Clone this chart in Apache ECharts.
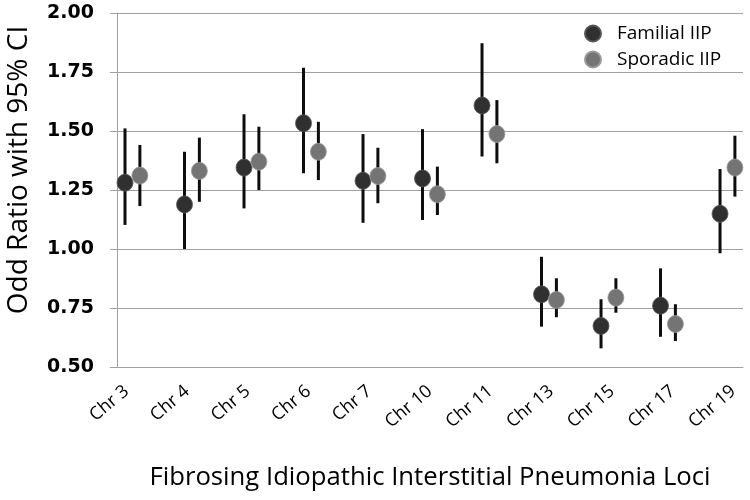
<!DOCTYPE html>
<html><head><meta charset="utf-8">
<script src="https://cdn.jsdelivr.net/npm/echarts@6/dist/echarts.min.js"></script>
<style>html,body{margin:0;padding:0;background:#fff}#c{width:750px;height:500px}</style>
</head><body><div id="c"></div>
<script>
const categories = ['Chr 3','Chr 4','Chr 5','Chr 6','Chr 7','Chr 10','Chr 11','Chr 13','Chr 15','Chr 17','Chr 19'];
const familialOR   = [1.281,1.189,1.345,1.533,1.289,1.299,1.608,0.808,0.674,0.760,1.149];
const familialLow  = [1.102,1.000,1.172,1.321,1.111,1.123,1.392,0.671,0.579,0.628,0.982];
const familialHigh = [1.511,1.412,1.571,1.768,1.487,1.508,1.872,0.967,0.787,0.918,1.339];
const sporadicOR   = [1.311,1.331,1.370,1.412,1.309,1.232,1.487,0.784,0.794,0.682,1.345];
const sporadicLow  = [1.182,1.200,1.250,1.292,1.194,1.144,1.363,0.711,0.730,0.610,1.222];
const sporadicHigh = [1.441,1.472,1.518,1.539,1.429,1.349,1.631,0.876,0.876,0.766,1.480];
const seriesNames = ['Familial IIP','Sporadic IIP'];

const SPORADIC_SHIFT = 0.25;
const LABEL_START = 0.025, LABEL_STEP = 1.02;
const labelPositions = categories.map((c,i)=>LABEL_START + LABEL_STEP*i);

const famPts = categories.map((c,i)=>[i, familialOR[i]]);
const spoPts = categories.map((c,i)=>[i+SPORADIC_SHIFT, sporadicOR[i]]);
const famErr = categories.map((c,i)=>[i, familialLow[i], familialHigh[i]]);
const spoErr = categories.map((c,i)=>[i+SPORADIC_SHIFT, sporadicLow[i], sporadicHigh[i]]);

function errRender(params, api){
  const p1 = api.coord([api.value(0), api.value(1)]);
  const p2 = api.coord([api.value(0), api.value(2)]);
  return {type:'line', shape:{x1:p1[0],y1:p1[1],x2:p2[0],y2:p2[1]}, style:{stroke:'#0d0d0d', lineWidth:3}};
}

const chart = echarts.init(document.getElementById('c'), null, {renderer:'canvas'});
chart.setOption({
  animation:false,
  backgroundColor:'#fff',
  grid:{left:117, right:7, top:13, bottom:133, containLabel:false, outerBoundsMode:'none'},
  legend:{
    data:seriesNames, orient:'vertical', left:579, top:19, itemGap:7,
    itemWidth:16, itemHeight:17, icon:'circle',
    textStyle:{fontFamily:'Open Sans', fontSize:19, color:'#000', padding:[0,0,0,11]}
  },
  xAxis:{
    type:'value', min:-0.1345, max:10.386,
    splitLine:{show:false},
    axisLine:{show:true, onZero:false, lineStyle:{color:'#a0a0a0', width:1}},
    axisTick:{show:false},
    axisLabel:{
      customValues:labelPositions, rotate:40, margin:22,
      fontFamily:'Open Sans', fontSize:18, color:'#000',
      formatter:(v)=>categories[Math.round((v-LABEL_START)/LABEL_STEP)] || ''
    },
    name:'Fibrosing Idiopathic Interstitial Pneumonia Loci',
    nameLocation:'middle', nameGap:98,
    nameTextStyle:{fontFamily:'Open Sans', fontSize:25.7, color:'#000'}
  },
  yAxis:{
    type:'value', min:0.5, max:2.0, interval:0.25,
    axisLine:{show:true, onZero:false, lineStyle:{color:'#a0a0a0', width:1}},
    axisTick:{show:true, length:7, inside:false, lineStyle:{color:'#a0a0a0'}},
    splitLine:{show:true, lineStyle:{color:'#a0a0a0', width:1}},
    axisLabel:{margin:23, fontFamily:'DejaVu Sans', fontWeight:'bold', fontSize:19, color:'#000',
      formatter:(v)=>v.toFixed(2)},
    name:'Odd Ratio with 95% CI', nameLocation:'middle', nameGap:84,
    nameTextStyle:{fontFamily:'Open Sans', fontSize:28, color:'#000', padding:[0,0,0,40]}
  },
  series:[
    {name:'famErr', type:'custom', renderItem:errRender, data:famErr, encode:{x:0, y:[1,2]}, z:2, silent:true},
    {name:'spoErr', type:'custom', renderItem:errRender, data:spoErr, encode:{x:0, y:[1,2]}, z:2, silent:true},
    {name:seriesNames[0], type:'scatter', data:famPts, symbol:'circle', symbolSize:[16,17], z:5,
      itemStyle:{color:'#303030', borderColor:'#555', borderWidth:0.8, opacity:1}},
    {name:seriesNames[1], type:'scatter', data:spoPts, symbol:'circle', symbolSize:[16,17], z:5,
      itemStyle:{color:'#747474', borderColor:'#9a9a9a', borderWidth:0.8, opacity:1}}
  ]
});
</script></body></html>
